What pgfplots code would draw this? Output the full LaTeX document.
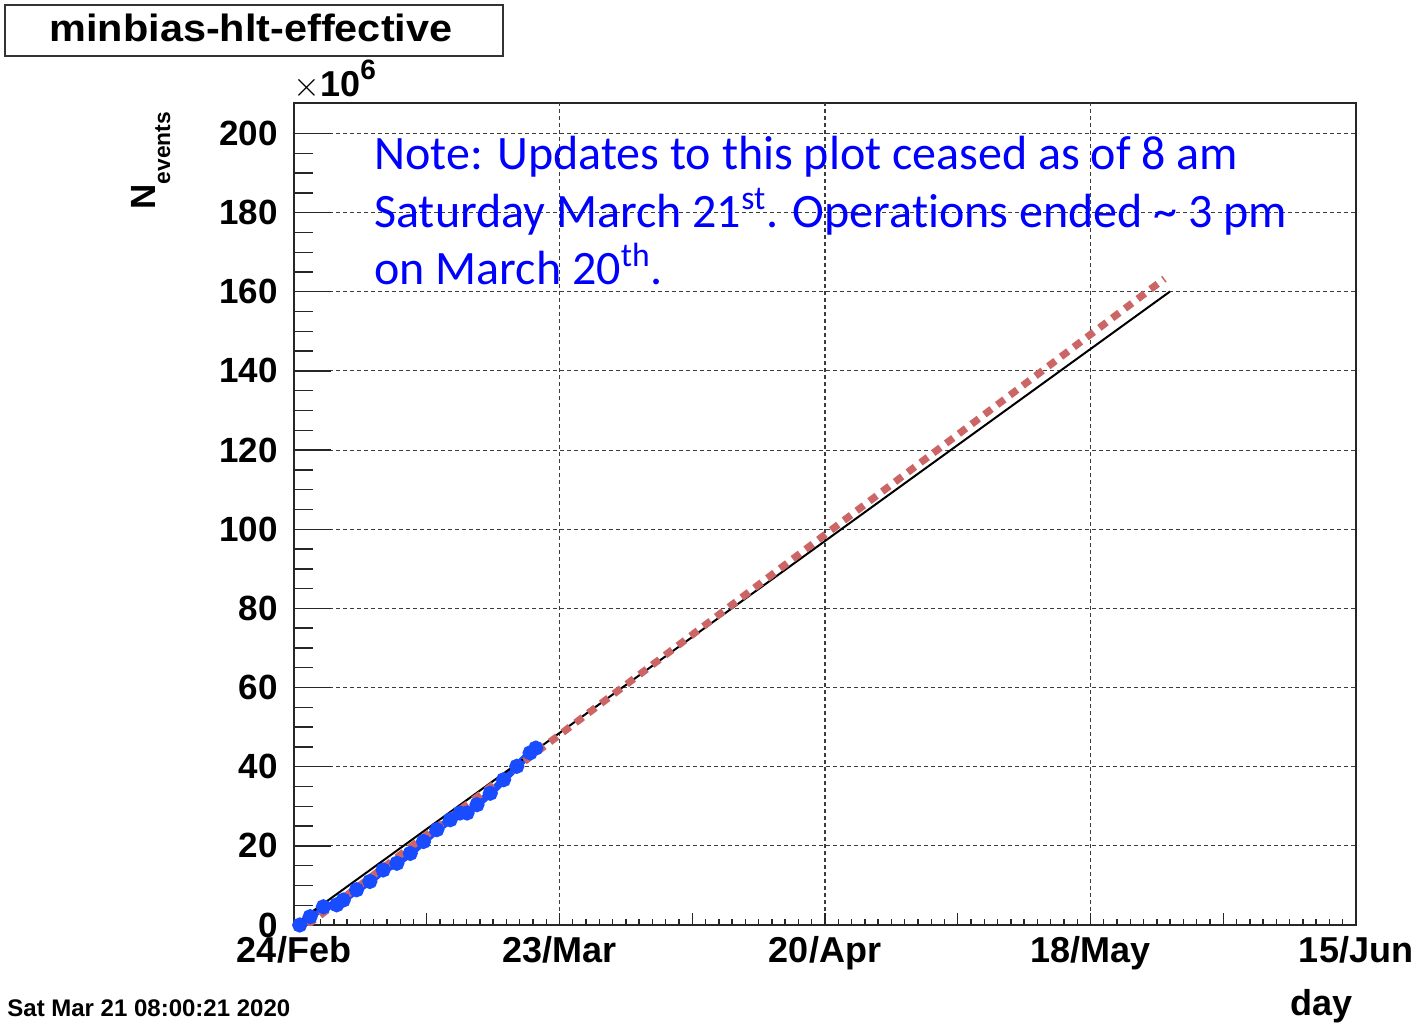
\documentclass[border=0pt]{standalone}
\usepackage{pgfplots}
\pgfplotsset{compat=1.18}
\usepackage{graphicx}
\usepackage{fontspec}
\setmainfont{Liberation Sans}
\newfontfamily\calibri[Ligatures={NoCommon,NoRare},Contextuals=NoAlternate]{Carlito}
\definecolor{fitred}{RGB}{204,102,102}
\definecolor{dblue}{RGB}{25,75,255}
\definecolor{gridc}{RGB}{60,60,60}

\pgfplotsset{
  commonax/.style={
    at={(147pt,50pt)}, anchor=south west,
    scale only axis, width=531pt, height=411pt,
    xmin=0, xmax=112, ymin=0, ymax=207.7,
    tick align=inside,
    axis line style={line width=0.9pt, black!85},
    tick style={line width=0.7pt, black!85},
    major grid style={gridc, line width=0.55pt, dash pattern=on 2pt off 1.5pt},
    /pgf/number format/assume math mode=true,
  }
}

\begin{document}
\begin{tikzpicture}
\path[use as bounding box] (0,0) rectangle (713pt,512.5pt);

% y ticks and horizontal grid
\begin{axis}[commonax,
  xtick=\empty,
  ytick={0,20,...,200},
  minor y tick num=3,
  ytick pos=left,
  major tick length=18.5pt, minor tick length=9.5pt,
  ymajorgrids,
  scaled y ticks=false,
  yticklabel style={font=\fontsize{17.5}{20}\selectfont\bfseries, anchor=east, inner sep=0pt, xshift=-8pt},
]
\end{axis}

% data, x ticks and vertical grid
\begin{axis}[commonax,
  ytick=\empty,
  xtick={0,14,...,112},
  xticklabels={24/Feb,,23/Mar,,20/Apr,,18/May,,15/Jun},
  minor x tick num=9,
  xtick pos=bottom,
  major tick length=6pt, minor tick length=3pt,
  extra x ticks={28,56,84},
  extra x tick labels={},
  extra x tick style={xmajorgrids=true},
  xticklabel style={font=\fontsize{18}{20}\selectfont\bfseries, anchor=base, inner sep=0pt, yshift=-18.5pt},
]
\addplot[dblue, line width=3.8pt, mark=*, mark size=1.8pt, mark options={solid}] coordinates {
(0.6,0.0) (1.7,2.1) (3.1,4.6) (4.5,5.1) (5.2,6.3) (6.6,8.9) (8.0,11.0)
(9.4,13.9) (10.85,15.6) (12.26,18.1) (13.66,21.1) (15.07,24.1) (16.48,26.6)
(17.5,28.3) (18.25,28.3) (19.3,30.4) (20.7,33.3) (22.1,36.7) (23.5,40.1)
(24.9,43.5) (25.5,44.7)};
\addplot[black, line width=1pt] coordinates {(0,0) (92.4,160.1)};
\addplot[fitred, line width=3.6pt, dash pattern=on 4.5pt off 3.5pt] coordinates {(1.4,0) (91.8,163.3)};
\end{axis}

% exponent and axis titles
\node[anchor=base west, inner sep=0pt, font=\fontsize{18}{20}\selectfont\bfseries] at (146.5pt,464pt)
  {$\times$10\raisebox{8.5pt}{\fontsize{14}{14}\selectfont\bfseries 6}};
\node[rotate=90, anchor=base west, inner sep=0pt] at (77.5pt,407.5pt)
  {{\fontsize{17.5}{20}\selectfont\bfseries N}\raisebox{-7.5pt}{\fontsize{11.4}{12}\selectfont\bfseries events}};
\node[anchor=base east, inner sep=0pt, font=\fontsize{18}{20}\selectfont\bfseries] at (676.5pt,5pt) {day};

% title box
\draw[line width=1pt, black!80] (2.5pt,484.5pt) rectangle (251.5pt,510pt);
\node[anchor=base, inner sep=0pt, font=\fontsize{19}{20}\selectfont\bfseries] at (125.5pt,491.6pt)
  {\scalebox{1.09}[1]{minbias-hlt-effective}};

% date stamp
\node[anchor=base west, inner sep=0pt, font=\fontsize{12}{14}\selectfont\bfseries] at (3.5pt,4.2pt)
  {Sat Mar 21 08:00:21 2020};

% annotation
\node[anchor=base west, inner sep=0pt, text=blue, font=\calibri\fontsize{24}{29}\selectfont] at (187pt,427.5pt)
  {Note: Updates to this plot ceased as of 8 am};
\node[anchor=base west, inner sep=0pt, text=blue, font=\calibri\fontsize{24}{29}\selectfont] at (187pt,398.85pt)
  {Saturday March 21\textsuperscript{st}. Operat\kern0pt ions ended \textasciitilde{} 3 pm};
\node[anchor=base west, inner sep=0pt, text=blue, font=\calibri\fontsize{24}{29}\selectfont] at (187pt,370pt)
  {on March 20\textsuperscript{th}.};
\end{tikzpicture}
\end{document}
